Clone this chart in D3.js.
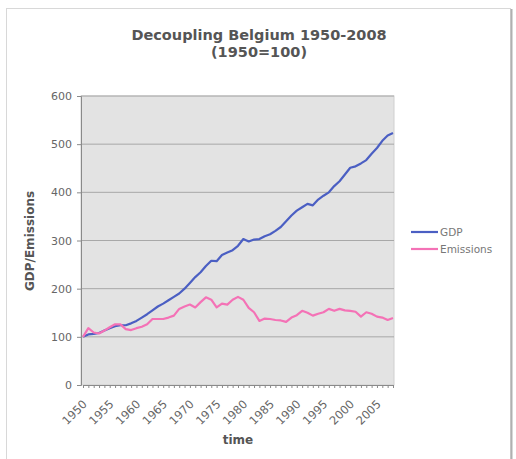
<!DOCTYPE html>
<html>
<head>
<meta charset="utf-8">
<script src="https://cdn.jsdelivr.net/npm/d3@7"></script>
<style>
  body { margin: 0; background: #fff; }
  text { font-family: "DejaVu Sans", Verdana, sans-serif; }
</style>
</head>
<body>
<div id="chart"></div>
<script>
// years 1950..2008, index 1950 = 100
const years = [1950, 1951, 1952, 1953, 1954, 1955, 1956, 1957, 1958, 1959,
  1960, 1961, 1962, 1963, 1964, 1965, 1966, 1967, 1968, 1969,
  1970, 1971, 1972, 1973, 1974, 1975, 1976, 1977, 1978, 1979,
  1980, 1981, 1982, 1983, 1984, 1985, 1986, 1987, 1988, 1989,
  1990, 1991, 1992, 1993, 1994, 1995, 1996, 1997, 1998, 1999,
  2000, 2001, 2002, 2003, 2004, 2005, 2006, 2007, 2008];

const gdp = [100, 105, 106, 108, 113, 118, 122, 124, 124, 128,
  133, 140, 147, 155, 163, 169, 176, 183, 190, 200,
  212, 224, 234, 247, 258, 257, 270, 275, 280, 289,
  303, 298, 302, 303, 309, 313, 320, 328, 340, 352,
  362, 369, 376, 373, 385, 393, 400, 413, 423, 437,
  451, 454, 460, 467, 480, 492, 507, 518, 523];

const emissions = [100, 118, 109, 107, 113, 120, 126, 126, 116, 114,
  118, 121, 126, 137, 137, 137, 140, 144, 158, 163,
  167, 161, 172, 182, 177, 161, 169, 167, 177, 183,
  177, 160, 151, 133, 138, 137, 135, 134, 131, 140,
  145, 154, 150, 144, 148, 151, 158, 154, 158, 155,
  154, 152, 142, 151, 148, 142, 140, 135, 139];

const yTicks = [0, 100, 200, 300, 400, 500, 600];
const labelYears = years.filter(y => (y - 1950) % 5 === 0);
const titleLines = ["Decoupling Belgium 1950-2008", "(1950=100)"];

const series = [
  { name: "GDP", values: gdp, color: "#4b5fc3" },
  { name: "Emissions", values: emissions, color: "#f472b6" }
];

const width = 516, height = 459;
const margin = { top: 96, right: 122, bottom: 74, left: 81 };
const plotW = width - margin.left - margin.right;
const plotH = height - margin.top - margin.bottom;

const svg = d3.select("#chart").append("svg")
    .attr("width", width)
    .attr("height", height);

// outer chart frame
svg.append("rect")
  .attr("x", 6.5).attr("y", 8.5)
  .attr("width", 504).attr("height", 470)
  .attr("fill", "#fff")
  .attr("stroke", "#d8d8d8");
svg.append("line")
  .attr("x1", 511.5).attr("x2", 511.5)
  .attr("y1", 9).attr("y2", height)
  .attr("stroke", "#b0b0b0").attr("stroke-width", 2);

svg.selectAll("text.title")
  .data(titleLines)
  .join("text")
    .attr("class", "title")
    .attr("x", 259)
    .attr("y", (d, i) => 40 + i * 17)
    .attr("text-anchor", "middle")
    .attr("font-size", 14.5)
    .attr("font-weight", "bold")
    .attr("fill", "#555")
    .text(d => d);

const g = svg.append("g")
  .attr("transform", `translate(${margin.left}, ${margin.top})`);

const x = d3.scalePoint(years, [2, plotW - 1]);
const y = d3.scaleLinear([0, 600], [plotH, 0]);

g.append("rect")
  .attr("width", plotW).attr("height", plotH)
  .attr("fill", "#e3e3e3")
  .attr("stroke", "#cfcfcf");

// gridlines
g.append("g")
  .selectAll("line")
  .data(yTicks.slice(1))
  .join("line")
    .attr("x1", 0).attr("x2", plotW)
    .attr("y1", d => y(d)).attr("y2", d => y(d))
    .attr("stroke", "#a8a8a8");

// y axis
const yAxis = g.append("g")
  .call(d3.axisLeft(y).tickValues(yTicks).tickSize(4).tickPadding(5));
yAxis.select(".domain").attr("stroke", "#8a8a8a");
yAxis.selectAll(".tick line").attr("stroke", "#8a8a8a");
yAxis.selectAll("text")
  .attr("font-family", "DejaVu Sans, Verdana, sans-serif")
  .attr("font-size", 11)
  .attr("fill", "#666");

// x axis, minor ticks every year
const xMinor = g.append("g")
  .attr("transform", `translate(0, ${plotH})`)
  .call(d3.axisBottom(x).tickSize(3).tickFormat(""));
xMinor.select(".domain").attr("stroke", "#8a8a8a");
xMinor.selectAll(".tick line").attr("stroke", "#8a8a8a");

const xLabels = g.append("g")
  .attr("transform", `translate(0, ${plotH})`)
  .call(d3.axisBottom(x).tickValues(labelYears).tickSize(0));
xLabels.select(".domain").remove();
xLabels.selectAll("text")
  .attr("font-family", "DejaVu Sans, Verdana, sans-serif")
  .attr("font-size", 11.5)
  .attr("fill", "#666")
  .attr("text-anchor", "end")
  .attr("x", -11)
  .attr("y", 17)
  .attr("dy", 0)
  .attr("transform", "rotate(-45)");

// lines
const line = d3.line()
  .x((d, i) => x(years[i]))
  .y(d => y(d));

g.selectAll("path.series")
  .data(series)
  .join("path")
    .attr("class", "series")
    .attr("fill", "none")
    .attr("stroke", d => d.color)
    .attr("stroke-width", 2.2)
    .attr("stroke-linejoin", "round")
    .attr("d", d => line(d.values));

// axis titles
svg.append("text")
  .attr("transform", `translate(34, 241) rotate(-90)`)
  .attr("text-anchor", "middle")
  .attr("font-size", 12)
  .attr("font-weight", "bold")
  .attr("fill", "#555")
  .text("GDP/Emissions");

svg.append("text")
  .attr("x", 238).attr("y", 444)
  .attr("text-anchor", "middle")
  .attr("font-size", 12)
  .attr("font-weight", "bold")
  .attr("fill", "#555")
  .text("time");

// legend
const legend = svg.append("g")
  .attr("transform", "translate(411, 232)");
const item = legend.selectAll("g")
  .data(series)
  .join("g")
    .attr("transform", (d, i) => `translate(0, ${i * 17})`);
item.append("line")
  .attr("x1", 0).attr("x2", 27)
  .attr("stroke", d => d.color)
  .attr("stroke-width", 2.2);
item.append("text")
  .attr("x", 29).attr("y", 4)
  .attr("font-size", 10.5)
  .attr("fill", "#777")
  .text(d => d.name);
</script>
</body>
</html>
